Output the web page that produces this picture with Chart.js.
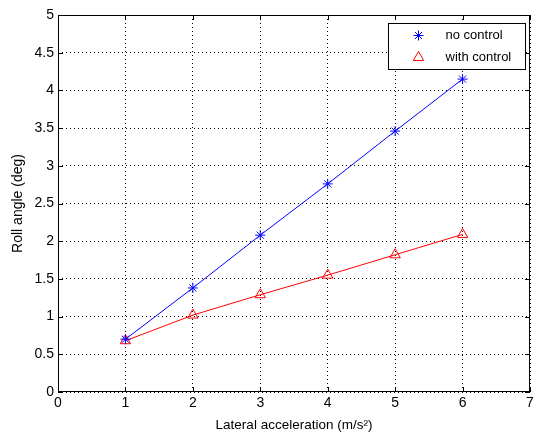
<!DOCTYPE html>
<html><head><meta charset="utf-8">
<script src="https://cdn.jsdelivr.net/npm/chart.js@4/dist/chart.umd.min.js"></script>
<style>html,body{margin:0;padding:0;background:#fff}#wrap{width:537px;height:437px}</style>
</head><body><div id="wrap"><canvas id="c" width="537" height="437"></canvas></div>
<script>
const lateralAccel = [1, 2, 3, 4, 5, 6];
const rollNoControl = [0.70, 1.38, 2.08, 2.76, 3.46, 4.15];
const rollWithControl = [0.68, 1.02, 1.29, 1.55, 1.82, 2.09];
const seriesNames = ['no control', 'with control'];
const xLabel = 'Lateral acceleration (m/s²)';
const yLabel = 'Roll angle (deg)';

const FONT = 'Liberation Sans, Arial, sans-serif';

const framePlugin = {
  id: 'frame',
  afterDraw(chart) {
    const {ctx, chartArea: a, scales} = chart;
    ctx.save();
    ctx.strokeStyle = '#000'; ctx.lineWidth = 1;
    ctx.strokeRect(Math.round(a.left)+0.5, Math.round(a.top)+0.5, Math.round(a.right-a.left)-1, Math.round(a.bottom-a.top)-1);
    const tl = 5;
    scales.x.ticks.forEach(t=>{ const px = Math.round(scales.x.getPixelForValue(t.value))+0.5;
      ctx.beginPath(); ctx.moveTo(px,a.bottom); ctx.lineTo(px,a.bottom-tl); ctx.moveTo(px,a.top); ctx.lineTo(px,a.top+tl); ctx.stroke(); });
    scales.y.ticks.forEach(t=>{ const py = Math.round(scales.y.getPixelForValue(t.value))+0.5;
      ctx.beginPath(); ctx.moveTo(a.left,py); ctx.lineTo(a.left+tl,py); ctx.moveTo(a.right,py); ctx.lineTo(a.right-tl,py); ctx.stroke(); });
    // legend
    const lx = 388.5, ly = 23.5, lw = 137, lh = 46;
    ctx.fillStyle = '#fff'; ctx.fillRect(lx, ly, lw, lh);
    ctx.strokeStyle = '#000'; ctx.strokeRect(lx, ly, lw, lh);
    ctx.font = '13px ' + FONT; ctx.textBaseline = 'middle'; ctx.textAlign = 'left';
    chart.data.datasets.forEach((ds, i) => {
      const cy = ly + 12 + i*22;
      ctx.strokeStyle = ds.borderColor; ctx.fillStyle = 'rgba(0,0,0,0)'; ctx.lineWidth = 1;
      Chart.helpers.drawPoint(ctx, {pointStyle: ds.pointStyle, radius: ds.pointRadius, borderWidth: 1, rotation: 0}, lx + 30, cy);
      ctx.fillStyle = '#000';
      ctx.fillText(ds.label, lx + 57, cy);
    });
    ctx.restore();
  }
};

const fmt = v => String(Math.round(v*10)/10);

new Chart(document.getElementById('c'), {
  type: 'scatter',
  data: {
    datasets: [
      { label: seriesNames[0], data: lateralAccel.map((x,i)=>({x, y: rollNoControl[i]})), showLine: true,
        borderColor: '#0000ff', backgroundColor: 'rgba(0,0,0,0)', borderWidth: 1, pointStyle: 'star', pointRadius: 5, pointBorderWidth: 1 },
      { label: seriesNames[1], data: lateralAccel.map((x,i)=>({x, y: rollWithControl[i]})), showLine: true,
        borderColor: '#ff0000', backgroundColor: 'rgba(0,0,0,0)', borderWidth: 1, pointStyle: 'triangle', pointRadius: 6, pointBorderWidth: 1 }
    ]
  },
  options: {
    responsive: false, animation: false, devicePixelRatio: 1,
    layout: { padding: { top: 15, right: 3, left: 6, bottom: 0 } },
    plugins: { legend: { display: false }, tooltip: { enabled: false } },
    scales: {
      x: { type: 'linear', min: 0, max: 7, afterFit(s){ s.height = 45; },
        ticks: { stepSize: 1, color: '#000', font: { family: FONT, size: 14 }, padding: 3, maxRotation: 0, callback: fmt },
        grid: { color: '#000', lineWidth: 1, drawTicks: false },
        border: { display: false, dash: [1,3] },
        title: { display: true, text: xLabel, color: '#000', font: { family: FONT, size: 13.5 }, padding: { top: 3 } } },
      y: { type: 'linear', min: 0, max: 5, afterFit(s){ s.width = 52; },
        ticks: { stepSize: 0.5, color: '#000', font: { family: FONT, size: 14 }, padding: 4, callback: fmt },
        grid: { color: '#000', lineWidth: 1, drawTicks: false },
        border: { display: false, dash: [1,3] },
        title: { display: true, text: yLabel, color: '#000', font: { family: FONT, size: 14 }, padding: { top: 4, bottom: 0 } } }
    }
  },
  plugins: [framePlugin]
});
</script></body></html>
